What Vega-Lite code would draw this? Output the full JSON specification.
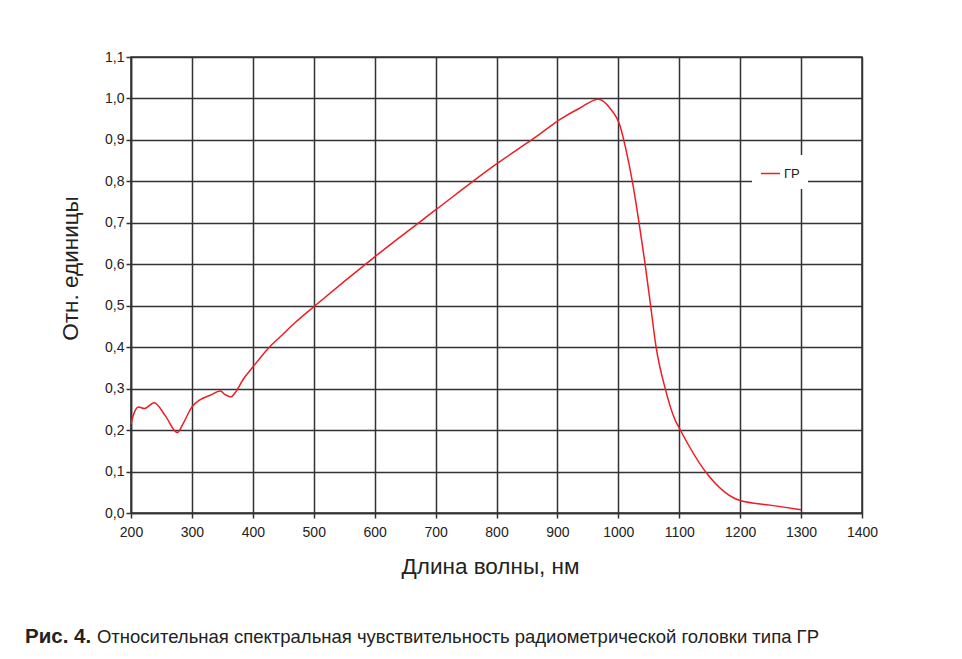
{
  "$schema": "https://vega.github.io/schema/vega-lite/v6.json",
  "width": 731,
  "height": 456,
  "autosize": {"type": "none"},
  "padding": {"left": 131, "top": 57, "right": 100, "bottom": 146},
  "background": "white",
  "config": {
    "locale": {"number": {"decimal": ",", "thousands": "\u00a0", "grouping": [3], "currency": ["", ""]}},
    "view": {"stroke": "#333333", "strokeWidth": 1.5},
    "font": "Liberation Sans",
    "axis": {
      "gridColor": "#333333", "gridWidth": 1.5, "gridOpacity": 1,
      "domainColor": "#333333", "domainWidth": 1.5,
      "tickColor": "#333333", "tickWidth": 1.5, "tickSize": 5,
      "labelFont": "Liberation Sans", "labelFontSize": 14, "labelColor": "#222222", "labelFlush": false,
      "titleFont": "Liberation Sans", "titleFontSize": 22.5, "titleFontWeight": "normal", "titleColor": "#222222"
    }
  },
  "title": {
    "text": "Рис. 4.",
    "subtitle": "\u200b\u00a0\u00a0\u00a0\u00a0\u00a0\u00a0\u00a0\u00a0\u00a0\u00a0\u00a0\u00a0\u00a0\u00a0Относительная спектральная чувствительность радиометрической головки типа ГР",
    "orient": "bottom",
    "anchor": "start",
    "frame": "group",
    "dx": -106,
    "offset": 49,
    "font": "Liberation Sans",
    "fontSize": 20.5,
    "fontWeight": "bold",
    "color": "#222222",
    "subtitleFont": "Liberation Sans",
    "subtitleFontSize": 18.5,
    "subtitleFontWeight": "normal",
    "subtitleColor": "#222222",
    "subtitlePadding": -18.9
  },
  "data": {
    "values": [
      {"wl": 200, "v": 0.215, "s": "ГР"},
      {"wl": 205, "v": 0.241, "s": "ГР"},
      {"wl": 212, "v": 0.256, "s": "ГР"},
      {"wl": 222, "v": 0.252, "s": "ГР"},
      {"wl": 238, "v": 0.266, "s": "ГР"},
      {"wl": 257, "v": 0.233, "s": "ГР"},
      {"wl": 276, "v": 0.194, "s": "ГР"},
      {"wl": 286, "v": 0.217, "s": "ГР"},
      {"wl": 300, "v": 0.256, "s": "ГР"},
      {"wl": 313, "v": 0.273, "s": "ГР"},
      {"wl": 330, "v": 0.284, "s": "ГР"},
      {"wl": 347, "v": 0.294, "s": "ГР"},
      {"wl": 354, "v": 0.286, "s": "ГР"},
      {"wl": 364, "v": 0.280, "s": "ГР"},
      {"wl": 371, "v": 0.290, "s": "ГР"},
      {"wl": 384, "v": 0.322, "s": "ГР"},
      {"wl": 400, "v": 0.352, "s": "ГР"},
      {"wl": 427, "v": 0.400, "s": "ГР"},
      {"wl": 445, "v": 0.425, "s": "ГР"},
      {"wl": 470, "v": 0.460, "s": "ГР"},
      {"wl": 502, "v": 0.500, "s": "ГР"},
      {"wl": 600, "v": 0.618, "s": "ГР"},
      {"wl": 700, "v": 0.731, "s": "ГР"},
      {"wl": 800, "v": 0.842, "s": "ГР"},
      {"wl": 871, "v": 0.914, "s": "ГР"},
      {"wl": 905, "v": 0.950, "s": "ГР"},
      {"wl": 937, "v": 0.977, "s": "ГР"},
      {"wl": 967, "v": 0.998, "s": "ГР"},
      {"wl": 986, "v": 0.977, "s": "ГР"},
      {"wl": 1003, "v": 0.933, "s": "ГР"},
      {"wl": 1012, "v": 0.880, "s": "ГР"},
      {"wl": 1023, "v": 0.800, "s": "ГР"},
      {"wl": 1034, "v": 0.700, "s": "ГР"},
      {"wl": 1044, "v": 0.600, "s": "ГР"},
      {"wl": 1053, "v": 0.500, "s": "ГР"},
      {"wl": 1062, "v": 0.400, "s": "ГР"},
      {"wl": 1077, "v": 0.300, "s": "ГР"},
      {"wl": 1093, "v": 0.225, "s": "ГР"},
      {"wl": 1100, "v": 0.205, "s": "ГР"},
      {"wl": 1145, "v": 0.096, "s": "ГР"},
      {"wl": 1200, "v": 0.030, "s": "ГР"},
      {"wl": 1249, "v": 0.019, "s": "ГР"},
      {"wl": 1300, "v": 0.008, "s": "ГР"}
    ]
  },
  "mark": {"type": "line", "interpolate": "monotone", "strokeWidth": 1.5},
  "encoding": {
    "x": {
      "field": "wl", "type": "quantitative",
      "scale": {"domain": [200, 1400], "nice": false, "zero": false},
      "axis": {
        "values": [200, 300, 400, 500, 600, 700, 800, 900, 1000, 1100, 1200, 1300, 1400],
        "format": "d", "labelPadding": 7,
        "title": "Длина волны, нм", "titleX": 359, "titleY": 60, "titleBaseline": "alphabetic", "titleAnchor": null
      }
    },
    "y": {
      "field": "v", "type": "quantitative",
      "scale": {"domain": [0, 1.1], "nice": false},
      "axis": {
        "values": [0, 0.1, 0.2, 0.3, 0.4, 0.5, 0.6, 0.7, 0.8, 0.9, 1.0, 1.1],
        "format": ".1f", "labelPadding": 2,
        "title": "Отн. единицы", "titleAngle": -90, "titleX": -61, "titleY": 211,
        "titleAlign": "center", "titleBaseline": "middle"
      }
    },
    "color": {
      "field": "s", "type": "nominal",
      "scale": {"range": ["#ee1c24"]},
      "legend": {
        "orient": "none", "legendX": 621, "legendY": 98,
        "title": null, "padding": 8, "fillColor": "white",
        "symbolType": "stroke", "symbolSize": 361, "symbolStrokeWidth": 1.5,
        "labelFont": "Liberation Sans", "labelFontSize": 13, "labelColor": "#222222", "labelOffset": 3
      }
    }
  }
}
